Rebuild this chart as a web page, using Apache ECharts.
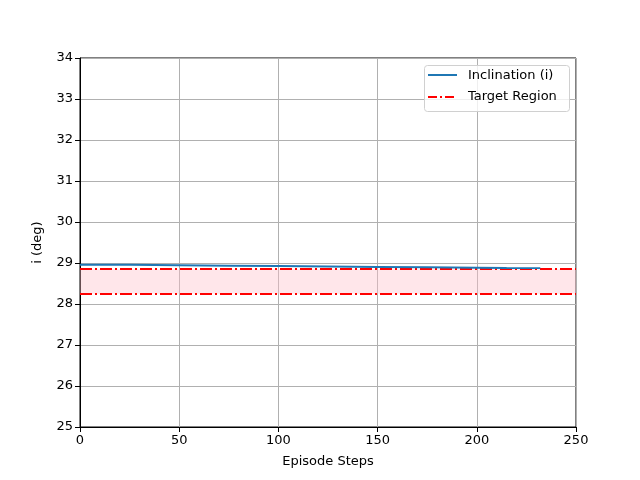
<!DOCTYPE html>
<html><head><meta charset="utf-8">
<script src="https://cdn.jsdelivr.net/npm/echarts@6/dist/echarts.min.js"></script>
<style>html,body{margin:0;padding:0;background:#fff}#c{width:640px;height:480px}</style>
</head><body><div id="c"></div>
<script>
const steps = [0, 25, 50, 75, 100, 125, 150, 175, 200, 215, 232];
const inclination = [28.96, 28.955, 28.945, 28.935, 28.925, 28.915, 28.905, 28.895, 28.885, 28.88, 28.875];
const targetLow = 28.25;
const targetHigh = 28.85;
const legendNames = ['Inclination (i)', 'Target Region'];
const yMin = 25, yMax = 34;

const font = 'DejaVu Sans';
const dashDot = [12, 3, 2, 3];
const chart = echarts.init(document.getElementById('c'));
chart.setOption({
  animation: false,
  grid: {left: 80, right: 64, top: 58, bottom: 53, show: true, borderColor: '#000', borderWidth: 1, backgroundColor: 'transparent'},
  graphic: [
    {type: 'rect', left: 424, top: 65, z: 100, shape: {width: 145, height: 46, r: 3},
      style: {fill: 'rgba(255,255,255,0.8)', stroke: '#d0d0d0', lineWidth: 1}},
    {type: 'line', z: 101, shape: {x1: 428, y1: 75, x2: 457, y2: 75},
      style: {stroke: '#1f77b4', lineWidth: 2}},
    {type: 'text', z: 101, left: 468, top: 69, style: {text: legendNames[0], font: '13px "DejaVu Sans"', fill: '#000'}},
    {type: 'line', z: 101, shape: {x1: 428, y1: 97, x2: 457, y2: 97},
      style: {stroke: '#ff0000', lineWidth: 2, lineDash: [9, 3, 2, 3]}},
    {type: 'text', z: 101, left: 468, top: 90, style: {text: legendNames[1], font: '13px "DejaVu Sans"', fill: '#000'}}
  ],
  xAxis: {
    type: 'value', min: 0, max: 250, interval: 50,
    name: 'Episode Steps', nameLocation: 'middle', nameGap: 28,
    nameTextStyle: {fontFamily: font, fontSize: 13, color: '#000'},
    axisLine: {lineStyle: {color: '#000'}},
    axisTick: {show: true, length: 5, lineStyle: {color: '#000'}},
    axisLabel: {fontFamily: font, fontSize: 13, color: '#000', margin: 7},
    splitLine: {show: true, lineStyle: {color: '#b0b0b0', width: 1}}
  },
  yAxis: {
    type: 'value', min: yMin, max: yMax, interval: 1,
    name: 'i (deg)', nameLocation: 'middle', nameGap: 36,
    nameTextStyle: {fontFamily: font, fontSize: 13, color: '#000'},
    axisLine: {show: true, lineStyle: {color: '#000'}},
    axisTick: {show: true, length: 5, lineStyle: {color: '#000'}},
    axisLabel: {fontFamily: font, fontSize: 13, color: '#000', margin: 7},
    splitLine: {show: true, lineStyle: {color: '#b0b0b0', width: 1}}
  },
  series: [
    {
      name: legendNames[1], type: 'line', data: [], symbol: 'none',
      markArea: {silent: true, itemStyle: {color: 'rgba(255,192,203,0.4)'},
        data: [[{yAxis: targetLow}, {yAxis: targetHigh}]]},
      markLine: {silent: true, symbol: 'none', label: {show: false},
        lineStyle: {color: '#ff0000', width: 2, type: dashDot},
        data: [{yAxis: targetLow}, {yAxis: targetHigh}]}
    },
    {
      name: legendNames[0], type: 'line', symbol: 'none', z: 5,
      data: steps.map((s, i) => [s, inclination[i]]),
      itemStyle: {color: '#1f77b4'},
      lineStyle: {color: '#1f77b4', width: 2}
    }
  ]
});
</script></body></html>
